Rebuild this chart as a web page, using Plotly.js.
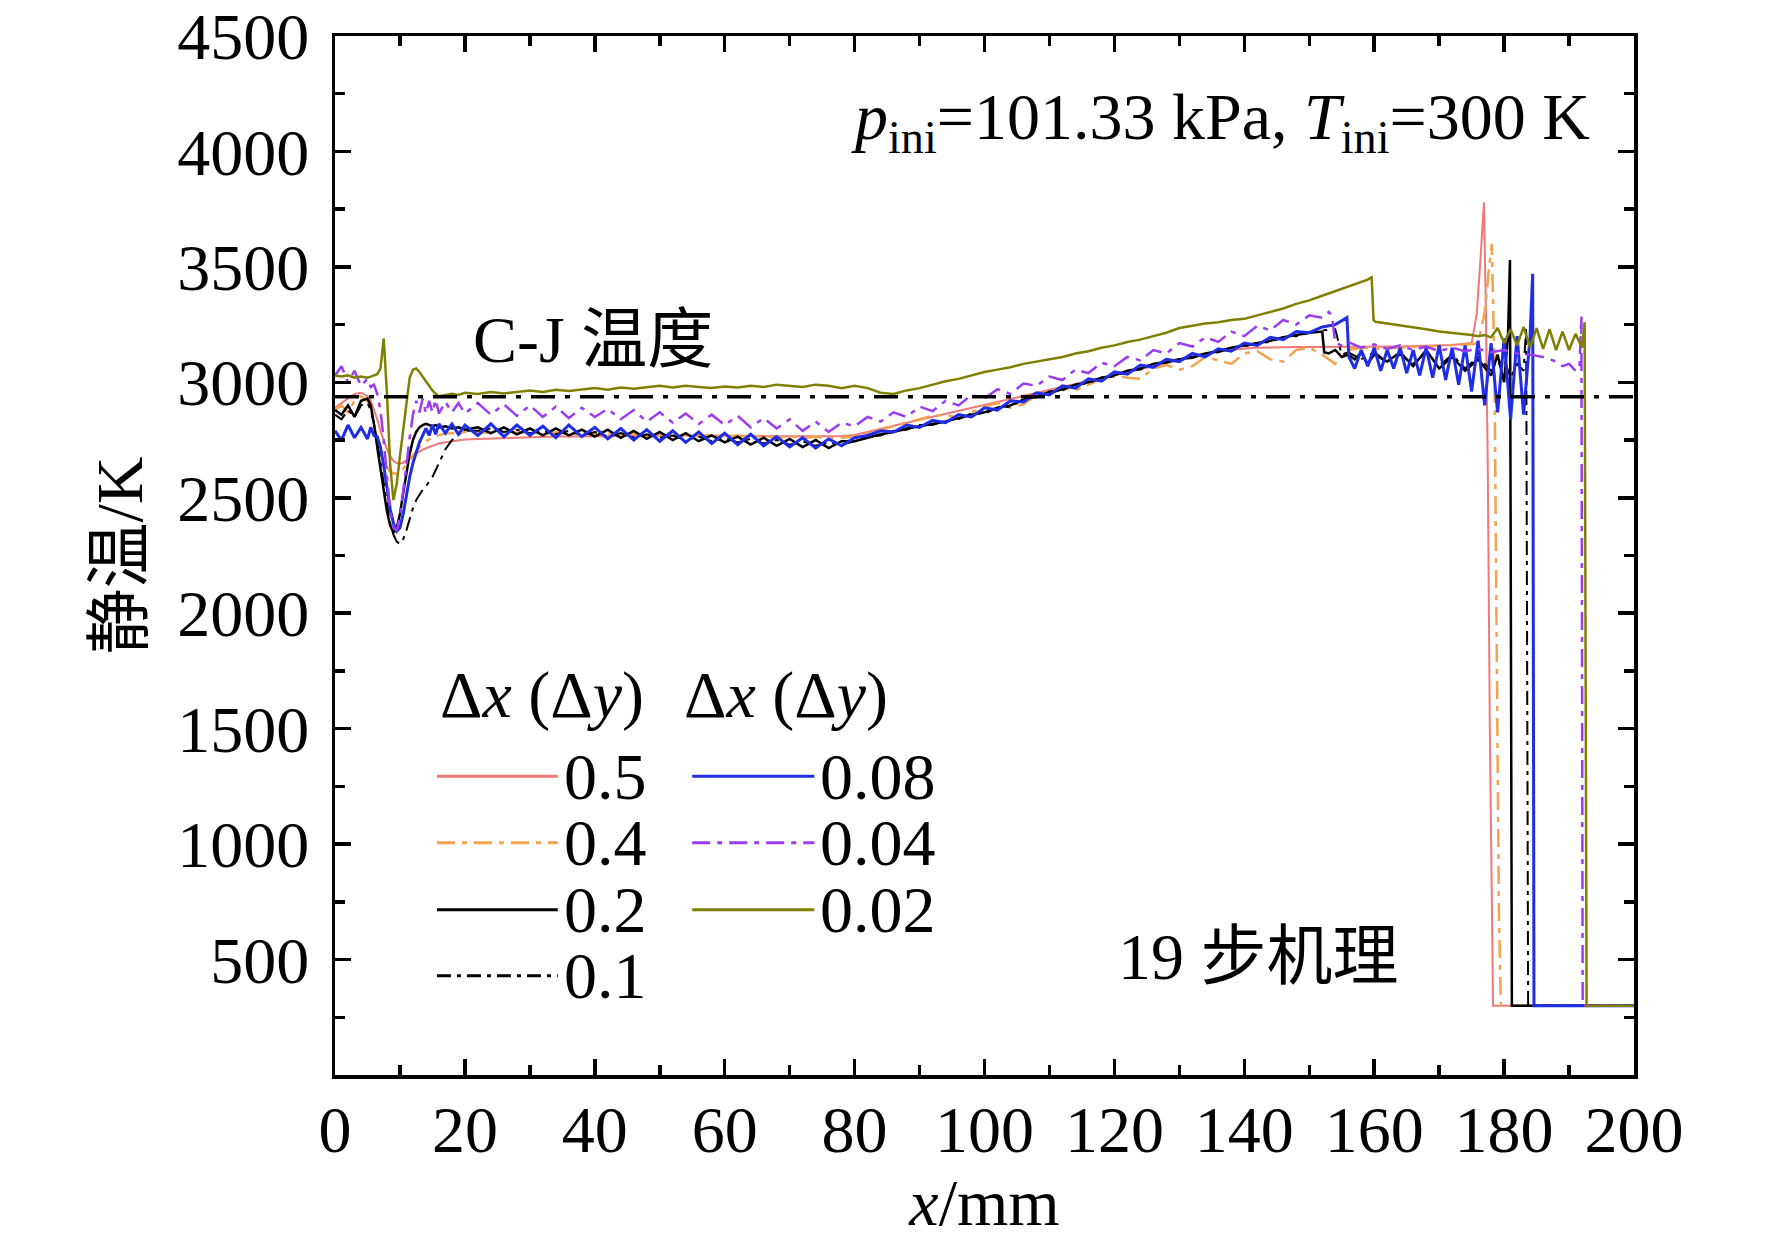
<!DOCTYPE html>
<html>
<head>
<meta charset="utf-8">
<script src="https://cdn.plot.ly/plotly-3.0.1.min.js"></script>
<style>
  body { margin: 0; background: #fff; }
  #plot { width: 1772px; height: 1244px; }
</style>
</head>
<body>
<div id="plot"></div>
<script>
// shared x grid (mm) for the body of every curve
var xBody = [0, 1, 2, 3, 4, 5,
  5.5, 6, 6.5, 7, 7.5, 8, 8.5, 9, 9.5, 10, 10.5, 11, 11.5, 12, 12.5, 13, 13.5, 14, 14.5, 15, 15.5, 16,
  17, 18, 19, 20,
  22, 24, 26, 28, 30, 32, 34, 36, 38, 40, 42, 44, 46, 48, 50, 52, 54, 56, 58, 60,
  62, 64, 66, 68, 70, 72, 74, 76, 78, 80,
  82, 84, 86, 88, 90, 92, 94, 96, 98, 100, 102, 104, 106, 108, 110, 112, 114, 116, 118, 120,
  122, 124, 126, 128, 130, 132, 134, 136, 138, 140, 142, 144, 146, 148, 150];

// dx = 0.5
var tBody05 = [2890, 2910, 2930, 2950, 2955, 2940,
  2920, 2880, 2840, 2790, 2750, 2710, 2680, 2660, 2650, 2648, 2652, 2662, 2672, 2682, 2692, 2700, 2708, 2715, 2720, 2725, 2730, 2735,
  2740, 2745, 2750, 2752,
  2755, 2757, 2760, 2760, 2762, 2763, 2765, 2765, 2766, 2767, 2768, 2768, 2769, 2770, 2770, 2770, 2770, 2770, 2770, 2770,
  2770, 2770, 2768, 2767, 2766, 2765, 2765, 2766, 2768, 2772,
  2785, 2800, 2812, 2825, 2838, 2850, 2862, 2875, 2888, 2900, 2913, 2926, 2940, 2953, 2966, 2980, 2993, 3006, 3019, 3032,
  3045, 3058, 3071, 3084, 3097, 3110, 3122, 3132, 3140, 3146, 3150, 3152, 3153, 3153, 3153];
var xTail05 = [152, 156, 160, 164, 168, 172, 175, 175.8, 176.4, 176.9, 177.2, 177.5, 177.8, 178.3, 200];
var tTail05 = [3153, 3152, 3153, 3155, 3158, 3162, 3170, 3300, 3550, 3780, 3300, 2600, 1500, 300, 300];

// dx = 0.4
var tBody04 = [2880, 2900, 2870, 2920, 2940, 2920,
  2880, 2820, 2750, 2690, 2650, 2630, 2615, 2605, 2605, 2612, 2625, 2645, 2665, 2685, 2705, 2720, 2735, 2745, 2755, 2762, 2768, 2772,
  2778, 2780, 2784, 2785,
  2785, 2780, 2790, 2782, 2786, 2778, 2784, 2776, 2782, 2774, 2780, 2772, 2778, 2770, 2776, 2768, 2774, 2766, 2772, 2764,
  2770, 2762, 2768, 2760, 2766, 2758, 2764, 2756, 2760, 2765,
  2780, 2795, 2810, 2825, 2840, 2855, 2860, 2845, 2870, 2895, 2910, 2890, 2905, 2945, 2960, 2975, 2965, 2990, 3015, 3030,
  3020, 3015, 3060, 3075, 3055, 3070, 3110, 3095, 3080, 3125, 3135, 3100, 3090, 3140, 3150];
var xTail04 = [152, 154, 156, 158, 160, 164, 168, 172, 175, 176, 177, 177.7, 178.1, 178.5, 178.8, 179.2, 179.5, 200];
var tTail04 = [3120, 3080, 3140, 3150, 3145, 3150, 3155, 3160, 3165, 3170, 3300, 3500, 3600, 3100, 2000, 700, 300, 300];

// dx = 0.2
var tBody02 = [2880, 2860, 2900, 2850, 2920, 2930,
  2900, 2820, 2720, 2620, 2520, 2440, 2380, 2350, 2370, 2430, 2520, 2610, 2690, 2750, 2785, 2805, 2815, 2820, 2815, 2810, 2815, 2805,
  2810, 2800, 2805, 2795,
  2805, 2780, 2805, 2775, 2800, 2770, 2800, 2770, 2795, 2765, 2795, 2760, 2790, 2755, 2785, 2750, 2780, 2745, 2770, 2740,
  2765, 2730, 2760, 2725, 2755, 2720, 2750, 2715, 2745, 2745,
  2760, 2775, 2785, 2800, 2810, 2820, 2830, 2845, 2860, 2870, 2890, 2900, 2925, 2940, 2955, 2970, 2990, 3000, 3020, 3030,
  3050, 3060, 3080, 3090, 3100, 3110, 3125, 3135, 3150, 3160, 3170, 3180, 3195, 3205, 3215];
var xTail02 = [152, 152.3, 153, 154, 155, 156, 157, 158, 159, 160, 162, 164, 166, 168, 170, 172, 174, 176, 178, 179, 180, 180.6, 180.9, 181.2, 200];
var tTail02 = [3220, 3130, 3125, 3140, 3110, 3120, 3100, 3130, 3080, 3120, 3090, 3130, 3070, 3140, 3060, 3110, 3050, 3100, 3030, 3120, 3000, 3200, 3530, 300, 300];

// dx = 0.1
var tBody01 = [2860, 2840, 2880, 2850, 2900, 2910,
  2880, 2820, 2740, 2650, 2550, 2460, 2390, 2340, 2310, 2300, 2320, 2360, 2410, 2455, 2490, 2515, 2535, 2550, 2570, 2590, 2620, 2650,
  2710, 2750, 2775, 2790,
  2790, 2800, 2785, 2795, 2780, 2790, 2775, 2790, 2770, 2785, 2765, 2780, 2760, 2775, 2760, 2770, 2750, 2765, 2745, 2760,
  2740, 2755, 2735, 2750, 2730, 2745, 2725, 2740, 2730, 2745,
  2765, 2770, 2790, 2795, 2815, 2815, 2835, 2840, 2865, 2865, 2890, 2895, 2925, 2935, 2960, 2965, 2990, 2995, 3020, 3025,
  3050, 3055, 3080, 3085, 3100, 3105, 3125, 3130, 3150, 3155, 3170, 3175, 3195, 3200, 3215];
var xTail01 = [152, 154, 155, 156, 158, 160, 162, 164, 166, 168, 170, 172, 174, 176, 178, 180, 181, 182, 183, 183.4, 183.7, 200];
var tTail01 = [3225, 3230, 3120, 3130, 3100, 3130, 3090, 3120, 3080, 3130, 3070, 3120, 3060, 3110, 3050, 3100, 3020, 3080, 3050, 3240, 300, 300];

// dx = 0.08
var tBody008 = [2790, 2750, 2815, 2760, 2805, 2755,
  2805, 2770, 2765, 2720, 2640, 2540, 2450, 2390, 2355, 2370, 2430, 2510, 2590, 2650, 2700, 2740, 2770, 2800, 2770, 2815, 2775, 2820,
  2780, 2820, 2775, 2815,
  2770, 2820, 2765, 2815, 2770, 2810, 2760, 2815, 2765, 2805, 2755, 2800, 2750, 2795, 2745, 2790, 2740, 2785, 2735, 2780,
  2730, 2775, 2725, 2765, 2720, 2760, 2715, 2755, 2725, 2760,
  2770, 2790, 2785, 2815, 2805, 2835, 2825, 2860, 2850, 2890, 2880, 2920, 2915, 2955, 2945, 2985, 2975, 3015, 3005, 3045,
  3035, 3075, 3065, 3100, 3090, 3125, 3110, 3145, 3135, 3170, 3160, 3195, 3185, 3220, 3215];
var xTail008 = [152, 154, 155, 155.8, 156.1, 157, 158, 159, 160, 161, 162, 163, 164, 165, 166, 167, 168, 169, 170,
  171, 172, 173, 174, 175, 176, 177, 178, 179, 180, 181, 182, 183, 184, 184.4, 184.6, 200];
var tTail008 = [3240, 3250, 3265, 3280, 3110, 3060, 3140, 3070, 3150, 3050, 3140, 3060, 3150, 3040, 3140, 3030, 3150, 3020, 3160,
  3010, 3150, 2990, 3160, 2960, 3180, 2900, 3170, 2870, 3190, 2840, 3200, 2860, 3200, 3470, 300, 300];

// dx = 0.04
var tBody004 = [3030, 3070, 3000, 3050, 2985, 3015,
  2980, 2990, 2950, 2880, 2750, 2580, 2440, 2370, 2360, 2420, 2520, 2640, 2760, 2860, 2920, 2870, 2930, 2865, 2920, 2870, 2925, 2865,
  2915, 2870, 2910, 2865,
  2910, 2860, 2905, 2855, 2900, 2850, 2895, 2845, 2890, 2850, 2885, 2840, 2880, 2830, 2870, 2825, 2865, 2820, 2860, 2815,
  2855, 2805, 2845, 2800, 2840, 2790, 2830, 2785, 2825, 2810,
  2850, 2830, 2870, 2850, 2895, 2875, 2920, 2900, 2945, 2930, 2970, 2950, 2995, 2985, 3025, 3010, 3055, 3040, 3085, 3070,
  3110, 3095, 3140, 3125, 3170, 3155, 3195, 3175, 3220, 3200, 3245, 3225, 3270, 3250, 3290];
var xTail004 = [152, 153, 153.5, 154, 155, 156, 158, 160, 162, 164, 166, 168, 170, 172, 174, 176, 178, 180, 182, 184,
  186, 188, 189, 190, 191, 191.6, 191.9, 192.1, 200];
var tTail004 = [3280, 3305, 3290, 3170, 3160, 3175, 3150, 3165, 3145, 3160, 3140, 3155, 3135, 3150, 3135, 3145, 3130, 3140, 3125, 3120,
  3110, 3090, 3070, 3080, 3050, 3060, 3285, 300, 300];

// dx = 0.02
var tBody002 = [3030, 3025, 3030, 3020, 3025, 3020,
  3025, 3030, 3035, 3060, 3190, 2950, 2640, 2490, 2560, 2680, 2800, 2920, 3020, 3055, 3060, 3045, 3025, 3000, 2980, 2965, 2950, 2940,
  2945, 2950, 2945, 2955,
  2950, 2958, 2952, 2960, 2965, 2958, 2968, 2962, 2970, 2975, 2968, 2978, 2972, 2980, 2985, 2978, 2985, 2980, 2975, 2982,
  2978, 2985, 2980, 2990, 2985, 2980, 2990, 2985, 2975, 2985,
  2975, 2955, 2950, 2965, 2975, 2990, 3005, 3015, 3030, 3045, 3055, 3065, 3080, 3090, 3100, 3110, 3125, 3135, 3150, 3160,
  3175, 3185, 3200, 3215, 3235, 3245, 3255, 3260, 3270, 3275, 3290, 3305, 3320, 3340, 3355];
var xTail002 = [152, 154, 156, 158, 159, 159.6, 159.9, 160.2, 162, 164, 166, 168, 170, 172, 174,
  175, 176, 177, 178, 179, 180, 181, 182, 183, 184, 185, 186, 187, 188, 189, 190, 191, 192, 192.4, 192.7, 200];
var tTail002 = [3375, 3395, 3415, 3435, 3445, 3455, 3270, 3262, 3255, 3245, 3240, 3230, 3220, 3215, 3210,
  3205, 3200, 3205, 3195, 3235, 3170, 3230, 3160, 3240, 3150, 3235, 3145, 3230, 3140, 3220, 3140, 3210, 3150, 3260, 300, 300];

// C-J temperature
var cjX = [0, 200];
var cjT = [2938, 2938];

var seriesNames = ['0.5', '0.4', '0.2', '0.1', '0.08', '0.04', '0.02'];
var bodies = [tBody05, tBody04, tBody02, tBody01, tBody008, tBody004, tBody002];
var tailX = [xTail05, xTail04, xTail02, xTail01, xTail008, xTail004, xTail002];
var tailT = [tTail05, tTail04, tTail02, tTail01, tTail008, tTail004, tTail002];
var lineStyles = [
  {color: '#f07878', width: 2, dash: 'solid'},
  {color: '#f5a24e', width: 2.5, dash: '18px,7px,5px,7px'},
  {color: '#000000', width: 2.5, dash: 'solid'},
  {color: '#000000', width: 2, dash: '14px,6px,4px,6px'},
  {color: '#1f2ee6', width: 3, dash: 'solid'},
  {color: '#9a3cf2', width: 2.5, dash: '18px,7px,5px,7px'},
  {color: '#808000', width: 2.5, dash: 'solid'}
];

var data = [];
for (var i = 0; i < seriesNames.length; i++) {
  data.push({
    type: 'scatter',
    mode: 'lines',
    name: seriesNames[i],
    x: xBody.concat(tailX[i]),
    y: bodies[i].concat(tailT[i]),
    line: lineStyles[i],
    showlegend: false,
    hoverinfo: 'x+y'
  });
}
data.push({
  type: 'scatter',
  mode: 'lines',
  name: 'C-J',
  x: cjX,
  y: cjT,
  line: {color: '#000000', width: 3.5, dash: '24px,10px,5px,10px'},
  showlegend: false
});

var serif = 'Liberation Serif, "Noto Sans CJK SC", serif';
var fsize = 66;

// hand-made legend: sample line + label, two columns
var shapes = [];
var annotations = [];
var rowY = [0.2875, 0.2235, 0.159, 0.0955];
var colLine = [[0.0785, 0.1715], [0.2750, 0.3690]];
var colText = [0.1750, 0.3720];
var colHead = [0.0790, 0.2670];
for (var k = 0; k < seriesNames.length; k++) {
  var col = k < 4 ? 0 : 1;
  var row = k < 4 ? k : k - 4;
  shapes.push({
    type: 'line', xref: 'paper', yref: 'paper',
    x0: colLine[col][0], x1: colLine[col][1], y0: rowY[row], y1: rowY[row],
    line: {color: lineStyles[k].color, width: 3, dash: lineStyles[k].dash}
  });
  annotations.push({
    xref: 'paper', yref: 'paper', x: colText[col], y: rowY[row],
    xanchor: 'left', yanchor: 'middle', showarrow: false,
    text: seriesNames[k], font: {family: serif, size: fsize, color: '#000'}
  });
}
for (var c = 0; c < 2; c++) {
  annotations.push({
    xref: 'paper', yref: 'paper', x: colHead[c], y: 0.366,
    xanchor: 'left', yanchor: 'middle', showarrow: false,
    text: '\u0394<i>x</i> (\u0394<i>y</i>)', font: {family: serif, size: fsize, color: '#000'}
  });
}
annotations.push({
  xref: 'paper', yref: 'paper', x: 0.968, y: 0.918,
  xanchor: 'right', yanchor: 'middle', showarrow: false,
  text: '<i>p</i><sub>ini</sub>=101.33 kPa, <i>T</i><sub>ini</sub>=300 K',
  font: {family: serif, size: fsize, color: '#000'}
});
annotations.push({
  xref: 'paper', yref: 'paper', x: 0.105, y: 0.708,
  xanchor: 'left', yanchor: 'middle', showarrow: false,
  text: 'C-J 温度', font: {family: serif, size: fsize, color: '#000'}
});
annotations.push({
  xref: 'paper', yref: 'paper', x: 0.601, y: 0.114,
  xanchor: 'left', yanchor: 'middle', showarrow: false,
  text: '19 步机理', font: {family: serif, size: fsize, color: '#000'}
});

var axisCommon = {
  showline: true,
  linecolor: '#000',
  linewidth: 3.5,
  mirror: 'ticks',
  ticks: 'inside',
  ticklen: 16,
  tickwidth: 3.5,
  tickcolor: '#000',
  showgrid: false,
  zeroline: false,
  tickfont: {family: serif, size: fsize, color: '#000'}
};

var layout = {
  width: 1772,
  height: 1244,
  margin: {l: 335, r: 138, t: 36, b: 169, autoexpand: false},
  paper_bgcolor: '#fff',
  plot_bgcolor: '#fff',
  showlegend: false,
  xaxis: Object.assign({}, axisCommon, {
    range: [0, 200],
    tickmode: 'linear', tick0: 0, dtick: 20,
    ticklabelstandoff: -6,
    minor: {ticks: 'inside', dtick: 10, tick0: 0, ticklen: 10, tickwidth: 3.5, tickcolor: '#000', showgrid: false},
    title: {text: '<i>x</i>/mm', font: {family: serif, size: fsize, color: '#000'}, standoff: 8}
  }),
  yaxis: Object.assign({}, axisCommon, {
    range: [0, 4500],
    tickmode: 'array',
    tickvals: [500, 1000, 1500, 2000, 2500, 3000, 3500, 4000, 4500],
    ticklabelstandoff: 9,
    minor: {ticks: 'inside', dtick: 250, tick0: 0, ticklen: 10, tickwidth: 3.5, tickcolor: '#000', showgrid: false},
    title: {text: '静温/K', font: {family: serif, size: fsize, color: '#000'}, standoff: 14}
  }),
  shapes: shapes,
  annotations: annotations
};

Plotly.newPlot('plot', data, layout, {staticPlot: true});
</script>
</body>
</html>
